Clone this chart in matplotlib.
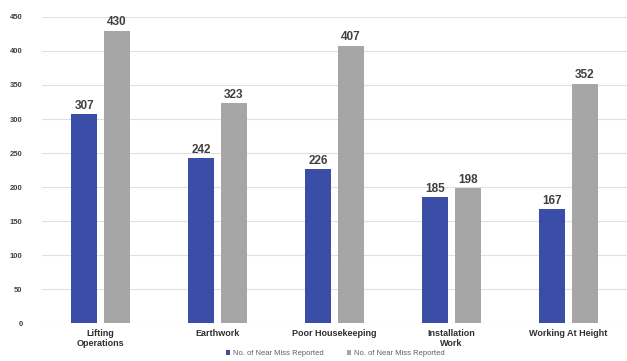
import numpy as np
import matplotlib
matplotlib.use("Agg")
import matplotlib.pyplot as plt

categories = ["Lifting\nOperations", "Earthwork", "Poor Housekeeping",
              "Installation\nWork", "Working At Height"]
series_a = [307, 242, 226, 185, 167]
series_b = [430, 323, 407, 198, 352]
legend_labels = ["No. of Near Miss Reported", "No. of Near Miss Reported"]
yticks = list(range(0, 451, 50))

plt.rcParams["font.family"] = ["Liberation Sans", "DejaVu Sans"]

fig = plt.figure(figsize=(6.27, 3.61), dpi=100)
ax = fig.add_axes([0.067, 0.105, 0.933, 0.848])

x = np.arange(len(categories))
w = 0.221
off = 0.14
b1 = ax.bar(x - off, series_a, w, color="#3A4EA8", label=legend_labels[0], zorder=3)
b2 = ax.bar(x + off, series_b, w, color="#A6A6A6", label=legend_labels[1], zorder=3)

for bars in (b1, b2):
    for r in bars:
        ax.text(r.get_x() + r.get_width() / 2, r.get_height() + 4, str(int(r.get_height())),
                ha="center", va="bottom", fontsize=8.5, fontweight="bold", color="#404040")

ax.set_xlim(-0.5, 4.5)
ax.set_ylim(0, 450)
ax.set_yticks(yticks)
ax.set_yticklabels([str(t) for t in yticks], fontsize=5.5, fontweight="bold", color="#404040")
ax.set_xticks(x)
ax.set_xticklabels(categories, fontsize=6.5, fontweight="bold", color="#303030", linespacing=1.2)
ax.tick_params(length=0)
ax.tick_params(axis="y", pad=14)
ax.tick_params(axis="x", pad=4)
ax.yaxis.grid(True, color="#E0E0E0", linewidth=0.8, zorder=0)
for s in ax.spines.values():
    s.set_visible(False)

fig.legend(handles=[b1, b2], labels=legend_labels, loc="center", bbox_to_anchor=(0.535, 0.02),
           ncol=2, frameon=False, fontsize=5.5, handlelength=0.5, handleheight=0.5,
           columnspacing=3.0, handletextpad=0.4, labelcolor="#606060")

fig.savefig("out.png", dpi=100)
